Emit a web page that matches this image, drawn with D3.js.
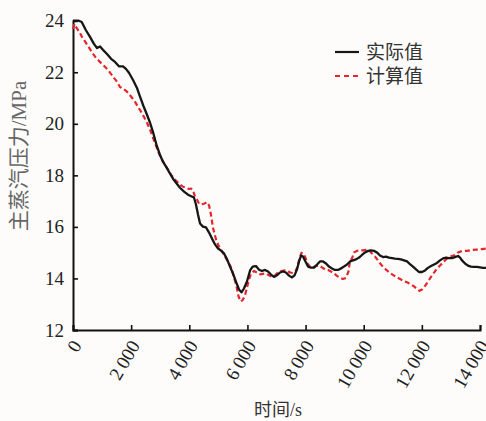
<!DOCTYPE html>
<html>
<head>
<meta charset="utf-8">
<script src="https://cdn.jsdelivr.net/npm/d3@7"></script>
<style>
  html, body { margin: 0; padding: 0; background: #fdfcfa; }
  svg { display: block; }
</style>
</head>
<body>
<svg id="chart" width="486" height="421"></svg>
<script>
// Time (s) and main-steam pressure (MPa), measured series
const actualTime = [0,200,300,440,585,720,825,930,1030,1170,1310,1445,1580,1720,1820,1925,2065,2200,2305,2420,2545,2650,2750,2880,2990,3095,3220,3335,3440,3565,3680,3820,3955,4085,4160,4230,4300,4370,4470,4575,4680,4780,4885,4990,5090,5195,5300,5400,5505,5605,5710,5795,5880,5985,6090,6180,6295,6400,6500,6605,6710,6810,6915,7015,7120,7225,7325,7430,7535,7620,7705,7775,7845,7910,7995,8085,8185,8290,8395,8495,8600,8705,8805,8910,9010,9115,9220,9320,9425,9530,9630,9735,9840,9940,10045,10150,10250,10355,10455,10560,10665,10765,10870,10975,11075,11180,11280,11385,11490,11590,11695,11800,11900,12005,12110,12210,12315,12420,12520,12625,12730,12830,12935,13035,13140,13245,13315,13380,13485,13585,13690,13790,13895,14000,14100,14205];
const actualValue = [24.0,24.0,23.95,23.64,23.37,23.1,22.94,23.0,22.87,22.71,22.52,22.4,22.23,22.23,22.13,21.98,21.7,21.39,21.05,20.7,20.35,20.04,19.69,19.15,18.8,18.53,18.3,18.07,17.87,17.68,17.52,17.37,17.25,17.18,17.14,16.87,16.48,16.13,16.01,15.98,15.78,15.55,15.32,15.16,15.08,14.97,14.74,14.46,14.19,13.88,13.57,13.46,13.61,13.88,14.31,14.46,14.48,14.34,14.29,14.33,14.27,14.15,14.06,14.12,14.23,14.27,14.23,14.11,14.04,14.12,14.35,14.66,14.89,14.85,14.66,14.46,14.42,14.42,14.54,14.66,14.66,14.58,14.46,14.39,14.33,14.33,14.39,14.46,14.54,14.66,14.7,14.74,14.81,14.91,15.01,15.07,15.09,15.07,15.01,14.89,14.83,14.85,14.81,14.79,14.77,14.76,14.74,14.7,14.66,14.56,14.46,14.35,14.25,14.25,14.31,14.41,14.48,14.54,14.6,14.7,14.78,14.81,14.79,14.79,14.83,14.87,14.81,14.7,14.58,14.5,14.46,14.45,14.45,14.43,14.41,14.41];

// Calculated series
const calcTime = [0,50,100,170,240,310,380,445,515,585,690,790,895,1000,1100,1205,1305,1410,1515,1615,1720,1825,1925,2030,2135,2235,2340,2440,2545,2650,2750,2855,2960,3060,3165,3270,3370,3475,3575,3680,3785,3885,3990,4060,4130,4195,4265,4335,4405,4505,4610,4680,4745,4815,4920,5020,5125,5230,5330,5435,5540,5625,5695,5760,5830,5915,5985,6055,6125,6225,6330,6435,6535,6640,6740,6845,6950,7050,7155,7260,7360,7465,7570,7655,7720,7790,7860,7930,7995,8065,8150,8255,8360,8460,8565,8670,8770,8875,8980,9080,9185,9290,9390,9475,9530,9595,9665,9770,9870,9975,10080,10180,10285,10390,10490,10595,10700,10800,10905,11005,11110,11215,11315,11420,11525,11625,11730,11835,11920,12005,12110,12210,12315,12420,12520,12625,12730,12830,12935,13035,13140,13245,13345,13450,13555,13655,13760,13860,13965,14070,14205];
const calcValue = [23.68,23.87,23.76,23.64,23.52,23.37,23.25,23.14,23.02,22.9,22.71,22.56,22.44,22.32,22.21,22.09,21.94,21.78,21.63,21.43,21.36,21.28,21.16,21.01,20.85,20.66,20.47,20.27,20.04,19.77,19.46,19.15,18.84,18.61,18.41,18.22,18.03,17.87,17.76,17.64,17.56,17.52,17.47,17.49,17.41,17.18,17.06,16.9,16.87,16.9,16.96,16.83,16.48,15.97,15.51,15.24,15.05,14.85,14.66,14.43,14.04,13.69,13.3,13.11,13.15,13.34,13.65,13.96,14.19,14.29,14.23,14.16,14.18,14.19,14.12,14.06,14.12,14.23,14.29,14.31,14.31,14.23,14.21,14.27,14.46,14.77,14.99,14.97,14.81,14.58,14.46,14.43,14.48,14.5,14.43,14.35,14.33,14.27,14.19,14.1,14.02,13.98,14.02,14.27,14.7,14.77,15.01,15.07,15.09,15.09,15.11,15.09,14.97,14.85,14.7,14.54,14.41,14.31,14.21,14.14,14.06,14.0,13.94,13.88,13.83,13.77,13.69,13.59,13.52,13.57,13.71,13.88,14.06,14.23,14.39,14.5,14.62,14.74,14.81,14.87,14.91,15.01,15.05,15.07,15.07,15.09,15.11,15.12,15.12,15.14,15.16];

const xTicks = [0, 2000, 4000, 6000, 8000, 10000, 12000, 14000];
const yTicks = [12, 14, 16, 18, 20, 22, 24];
const seriesNames = ["实际值", "计算值"];
const xTitle = "时间/s";
const yTitle = "主蒸汽压力/MPa";

const svg = d3.select("#chart");
const numFont = "'Liberation Serif', 'Times New Roman', serif";
const cjkFont = "'Liberation Serif', 'Noto Sans CJK SC', serif";

const x = d3.scaleLinear().domain([0, 14000]).range([73, 480]);
const y = d3.scaleLinear().domain([12, 24]).range([330, 20.7]);

// thousands separated by a thin space: "2 000"
const fmt = v => v === 0 ? "0" : d3.format(",")(v).replace(/,/g, "\u2009");

// Y axis: ticks pointing inward
const yAxis = svg.append("g")
  .attr("transform", `translate(${x(0)},0)`)
  .call(d3.axisLeft(y).tickValues(yTicks).tickSize(-5).tickPadding(9).tickFormat(d3.format("d")));
yAxis.select(".domain").attr("stroke", "#111").attr("stroke-width", 2);
yAxis.selectAll(".tick line").attr("stroke", "#111").attr("stroke-width", 1.6);
yAxis.selectAll("text")
  .attr("font-family", numFont).attr("font-size", 19).attr("fill", "#222");

// X axis: inward ticks, labels turned 60° and ending just under each tick
const xAxis = svg.append("g")
  .attr("transform", `translate(0,${y(12)})`)
  .call(d3.axisBottom(x).tickValues(xTicks).tickSize(-5).tickPadding(0).tickFormat(fmt));
xAxis.select(".domain").attr("stroke", "#111").attr("stroke-width", 2);
xAxis.selectAll(".tick line").attr("stroke", "#111").attr("stroke-width", 1.6);
xAxis.selectAll("text")
  .attr("font-family", numFont).attr("font-size", 19).attr("fill", "#222")
  .attr("text-anchor", "end")
  .attr("x", 0).attr("y", 0)
  .attr("dy", "0.35em")
  .attr("transform", "translate(3,12) rotate(-60)");

// Series lines
const line = d3.line().x(d => x(d[0])).y(d => y(d[1])).curve(d3.curveLinear);
const actualData = actualTime.map((t, i) => [t, actualValue[i]]);
const calcData = calcTime.map((t, i) => [t, calcValue[i]]);

svg.append("path").datum(calcData)
  .attr("d", line).attr("fill", "none")
  .attr("stroke", "#e4262c").attr("stroke-width", 2.2)
  .attr("stroke-dasharray", "5,3").attr("stroke-linejoin", "round");

svg.append("path").datum(actualData)
  .attr("d", line).attr("fill", "none")
  .attr("stroke", "#161616").attr("stroke-width", 2.3)
  .attr("stroke-linejoin", "round");

// Legend
const legend = svg.append("g");
const legendRows = [
  { name: seriesNames[0], color: "#161616", dash: null, y: 52 },
  { name: seriesNames[1], color: "#e4262c", dash: "5,4", y: 76 }
];
legendRows.forEach(r => {
  legend.append("line")
    .attr("x1", 335).attr("x2", 359).attr("y1", r.y).attr("y2", r.y)
    .attr("stroke", r.color).attr("stroke-width", 2.2)
    .attr("stroke-dasharray", r.dash);
  legend.append("text")
    .attr("x", 366).attr("y", r.y).attr("dy", "0.36em")
    .attr("font-family", cjkFont).attr("font-size", 19).attr("fill", "#333")
    .text(r.name);
});

// Axis titles
svg.append("text")
  .attr("x", 278).attr("y", 410).attr("dy", "0.36em")
  .attr("text-anchor", "middle")
  .attr("font-family", cjkFont).attr("font-size", 18).attr("fill", "#333")
  .text(xTitle);

svg.append("text")
  .attr("transform", "translate(18,156) rotate(-90)")
  .attr("dy", "0.36em")
  .attr("text-anchor", "middle")
  .attr("font-family", cjkFont).attr("font-size", 21).attr("fill", "#666")
  .text(yTitle);
</script>
</body>
</html>
